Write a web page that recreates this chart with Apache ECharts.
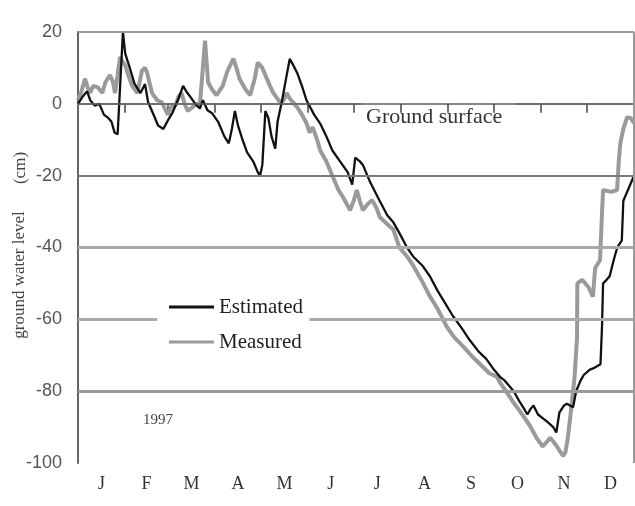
<!DOCTYPE html>
<html>
<head>
<meta charset="utf-8">
<script src="https://cdn.jsdelivr.net/npm/echarts@6/dist/echarts.min.js"></script>
<style>
  html, body { margin: 0; padding: 0; background: #fff; }
  #chart { width: 635px; height: 506px; }
</style>
</head>
<body>
<div id="chart"></div>
<script>
// Month labels and day-of-year boundaries (1997, not a leap year)
const months = ['J', 'F', 'M', 'A', 'M', 'J', 'J', 'A', 'S', 'O', 'N', 'D'];
const monthStarts = [0, 31, 59, 90, 120, 151, 181, 212, 243, 273, 304, 334, 365];
const yTicks = [20, 0, -20, -40, -60, -80, -100];

// Ground water level (cm) by day of year: [day, level]
const estimated = [
  [0, 0], [3, 2], [6, 3.5], [8, 1], [11, -0.5], [14, 0], [17, -3], [20, -4], [22, -5],
  [24, -8], [26, -8.5], [29.5, 20], [31, 14], [34, 10], [37, 5.7], [41, 3], [44, 5.5],
  [46, 0.5], [50.6, -4], [52.5, -6], [56, -7], [59, -4.6], [62, -2.5], [66, 1.5], [69, 5],
  [71, 3.5], [74, 1.8], [77, 0], [80, -1.3], [82, 1], [85, -1.8], [88, -2.6], [92, -5],
  [96, -9], [99, -11], [101, -7], [103, -2], [105, -6], [108, -10], [111, -13.5], [115, -16],
  [118, -19], [119.5, -20], [121, -17], [123, -2], [125, -4], [127, -9], [129.5, -12.5],
  [131, -5], [134, 1], [137, 8], [139, 12.5], [141, 11], [144, 8.5], [147, 5], [150, 1],
  [155, -3], [159, -5.5], [163, -9], [167, -13], [172, -16], [177, -19], [180, -22.5],
  [182, -15], [185, -16], [187, -17], [192, -22], [198, -27], [203, -31], [207, -33],
  [211, -36], [216, -40], [220, -42.5], [226, -45], [231, -48], [236, -52], [241, -55.5],
  [246, -59], [252, -62.5], [257, -65.7], [263, -69], [268, -71], [273, -74], [277, -76],
  [280, -77], [283, -78.5], [286, -80], [290, -83], [293, -85], [295, -86.5], [297, -85],
  [299, -84], [302, -86.5], [305, -87.5], [308, -88.5], [312, -90], [314, -91.5], [316, -86],
  [319, -84], [321, -83.5], [323, -84], [325, -84.5], [327, -80], [330, -77], [332, -75.5],
  [336, -74], [339, -73.5], [343, -72.5], [344, -62], [344.7, -50], [347, -49], [349, -48],
  [352, -43], [354, -40], [357, -38], [358, -27], [360, -25], [362, -23], [365, -20]
];

const measured = [
  [0, 1], [2, 3], [4.6, 7], [6, 5], [7.9, 3], [10, 5], [13, 4.6], [16, 3], [18, 6], [21, 8],
  [23, 6], [24.3, 3], [26, 8], [27.6, 13], [29, 12], [31, 10.7], [33, 8], [35.5, 5], [39, 3],
  [42, 9.3], [44, 10], [45.3, 8.75], [48.6, 3], [52, 1], [55, 0.4], [59, -3], [61, -1],
  [64, -0.4], [66, 2], [68, 3], [70, 0], [72, -2], [75, -1], [78, 0], [80, -0.4], [83.4, 17.6],
  [85.4, 6], [88, 4], [91, 2.4], [95, 5], [98, 9], [102, 12.6], [104, 10], [106, 7], [110, 4],
  [113, 2.4], [116, 7], [118, 11.5], [121, 10], [123, 8], [126, 5], [128, 3.2], [132.6, 0.4],
  [135, 1], [137, 3], [139, 1.5], [142, 0], [144, -1], [147, -3], [150, -5.4], [152, -8],
  [154, -6.5], [157, -10], [159, -13], [163, -16], [167, -20], [171, -24], [174, -26],
  [178.6, -29.6], [181, -27], [183, -24], [185, -27], [187, -29.6], [190, -28], [193, -26.8],
  [196, -29], [198, -31.5], [203, -33.5], [207, -35], [211, -40], [216, -42.5], [220, -45],
  [226, -49.5], [231, -53.6], [236, -57], [242, -62], [247, -65], [253, -67.6], [258, -70],
  [264, -72.5], [270, -75], [275, -76], [277, -77.6], [281, -80], [285.6, -83], [290, -85.5],
  [296.8, -89.7], [301, -93], [305, -95.4], [308, -94], [310, -93], [312, -94], [314.5, -95.4],
  [316, -96.5], [318.5, -98], [320, -97], [321.7, -92.6], [324, -84], [326, -76], [327.6, -65],
  [327.8, -50], [331, -49], [335, -51], [338, -53.7], [339.5, -45.7], [342.7, -43.5],
  [344, -30.4], [344.7, -24], [350, -24.5], [353.9, -24], [355, -16], [356, -11], [358, -7],
  [360.5, -3.7], [363, -4], [365, -5.4]
];

// Horizontal reference lines; the 0 and -60 lines leave room for the labels
const GROUND_GAP = [186, 287];
const LEGEND_GAP = [52, 152];

const midMonths = months.map((m, i) => (monthStarts[i] + monthStarts[i + 1]) / 2);

function hLine(y, x0, x1, color, width) {
  return [
    { coord: [x0, y], lineStyle: { color: color, width: width, type: 'solid' } },
    { coord: [x1, y] }
  ];
}

const gridLines = [
  hLine(20, 0, 365, '#9a9a9a', 2),
  hLine(0, 0, GROUND_GAP[0], '#666', 1.5),
  hLine(0, GROUND_GAP[1], 365, '#666', 1.5),
  hLine(-20, 0, 365, '#7a7a7a', 2),
  hLine(-40, 0, 365, '#aaa', 3),
  hLine(-60, 0, LEGEND_GAP[0], '#aaa', 3),
  hLine(-60, LEGEND_GAP[1], 365, '#aaa', 3),
  hLine(-80, 0, 365, '#9a9a9a', 3),
  [
    { coord: [365, 20], lineStyle: { color: '#9a9a9a', width: 2, type: 'solid' } },
    { coord: [365, -100] }
  ]
];

const chart = echarts.init(document.getElementById('chart'), null, { renderer: 'canvas' });

chart.setOption({
  animation: false,
  backgroundColor: '#fff',
  grid: { left: 78, right: 1, top: 32, bottom: 43, containLabel: false },
  xAxis: {
    type: 'value',
    min: 0,
    max: 365,
    axisLine: { show: true, lineStyle: { color: '#888', width: 2 } },
    axisTick: {
      show: true,
      customValues: monthStarts.slice(1),
      length: 9,
      lineStyle: { color: '#444', width: 1.5 }
    },
    axisLabel: {
      customValues: midMonths,
      formatter: (v) => months[midMonths.indexOf(v)] || '',
      margin: 12,
      fontFamily: 'Liberation Serif',
      fontSize: 18,
      color: '#333'
    },
    splitLine: { show: false }
  },
  yAxis: {
    type: 'value',
    min: yTicks[yTicks.length - 1],
    max: yTicks[0],
    interval: 20,
    axisLine: { show: true, lineStyle: { color: '#666', width: 2 } },
    axisTick: { show: false },
    axisLabel: {
      margin: 16,
      fontFamily: 'Liberation Sans',
      fontSize: 18,
      color: '#555'
    },
    splitLine: { show: false }
  },
  legend: {
    orient: 'vertical',
    left: 164,
    top: 291,
    icon: 'rect',
    itemWidth: 45,
    itemHeight: 3,
    itemGap: 13,
    data: ['Estimated', 'Measured'],
    textStyle: { fontFamily: 'Liberation Serif', fontSize: 21, lineHeight: 22, color: '#222' }
  },
  series: [
    {
      name: 'grid',
      type: 'line',
      data: [],
      silent: true,
      markLine: {
        silent: true,
        symbol: 'none',
        label: { show: false },
        data: gridLines
      }
    },
    {
      name: 'Measured',
      type: 'line',
      data: measured,
      showSymbol: false,
      symbol: 'none',
      lineStyle: { color: '#9a9a9a', width: 4 },
      itemStyle: { color: '#9a9a9a' },
      z: 3
    },
    {
      name: 'Estimated',
      type: 'line',
      data: estimated,
      showSymbol: false,
      symbol: 'none',
      lineStyle: { color: '#111', width: 2.3 },
      itemStyle: { color: '#111' },
      z: 4
    }
  ],
  graphic: [
    {
      type: 'text',
      x: 366, y: 117,
      style: {
        text: 'Ground surface',
        font: '22px "Liberation Serif"',
        fill: '#333',
        textVerticalAlign: 'middle'
      }
    },
    {
      type: 'text',
      x: 158, y: 420,
      style: {
        text: '1997',
        font: '15px "Liberation Serif"',
        fill: '#444',
        textAlign: 'center',
        textVerticalAlign: 'middle'
      }
    },
    {
      type: 'text',
      x: 20, y: 275,
      rotation: Math.PI / 2,
      style: {
        text: 'ground water level',
        font: '17px "Liberation Serif"',
        fill: '#444',
        textAlign: 'center',
        textVerticalAlign: 'middle'
      }
    },
    {
      type: 'text',
      x: 21, y: 168,
      rotation: Math.PI / 2,
      style: {
        text: '(cm)',
        font: '17px "Liberation Serif"',
        fill: '#444',
        textAlign: 'center',
        textVerticalAlign: 'middle'
      }
    }
  ]
});
</script>
</body>
</html>
